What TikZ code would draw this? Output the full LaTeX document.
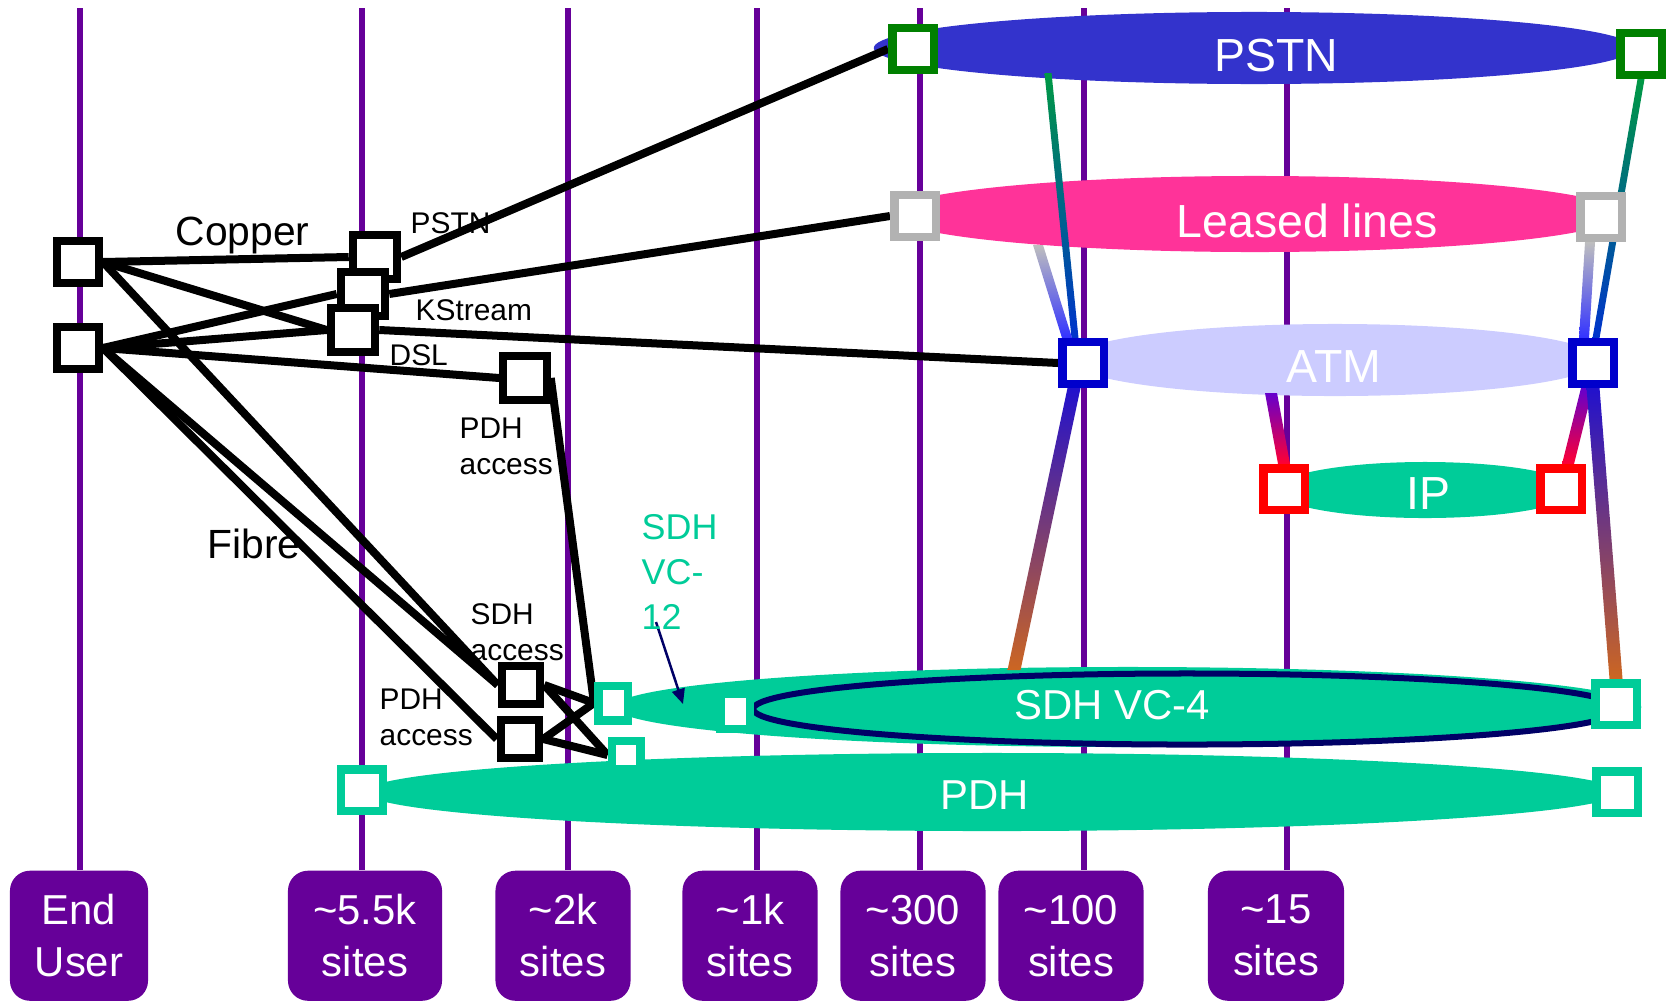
\documentclass[tikz,border=0pt]{standalone}
\usepackage{fontspec}
\setmainfont{Liberation Sans}
\usepackage{xcolor}
\usepackage{tikz}
\usetikzlibrary{shapes.geometric, arrows.meta, calc}
\definecolor{siteviolet}{RGB}{102, 0, 153}
\definecolor{pstnblue}{RGB}{51, 51, 204}
\definecolor{leasedpink}{RGB}{255, 51, 153}
\definecolor{atmlilac}{RGB}{204, 204, 255}
\definecolor{sdhgreen}{RGB}{0, 204, 153}
\definecolor{portgreen}{RGB}{0, 128, 0}
\definecolor{portgrey}{RGB}{178, 178, 178}
\definecolor{portblue}{RGB}{0, 0, 204}
\definecolor{portred}{RGB}{255, 0, 0}
\definecolor{ringnavy}{RGB}{0, 0, 102}
\definecolor{fadegreen}{RGB}{0, 153, 68}
\definecolor{fadeblue}{RGB}{0, 51, 204}
\definecolor{fadegrey}{RGB}{190, 190, 190}
\definecolor{fadebright}{RGB}{51, 51, 255}
\definecolor{fadeviolet}{RGB}{102, 0, 204}
\definecolor{fadered}{RGB}{255, 0, 51}
\definecolor{fadeindigo}{RGB}{34, 17, 204}
\definecolor{fadeorange}{RGB}{204, 102, 34}
\pgfdeclarelayer{back}
\pgfdeclarelayer{mid}
\pgfsetlayers{back,mid,main}
\newcommand{\gradlink}[5]{%
  \shade[top color=#3, bottom color=#4]
    ($(#1)+(-#5,0)$) -- ($(#1)+(#5,0)$) -- ($(#2)+(#5,0)$) -- ($(#2)+(-#5,0)$) -- cycle;}

\begin{document}
\begin{tikzpicture}[x=0.01cm, y=-0.01cm,
    sitebox/.style={fill=siteviolet, text=white, rounded corners=0.2cm,
                    minimum height=1.3cm, minimum width=#1, anchor=north,
                    align=center, inner sep=0pt, font=\fontsize{11.9}{14.8}\selectfont},
    siteline/.style={draw=siteviolet, line width=0.055cm},
    stratum/.style={ellipse, fill=#1, inner sep=0pt},
    stratumtext/.style={text=white, inner sep=0pt, font=\fontsize{13.2}{15}\selectfont},
    port/.style={draw=#1, fill=white, line width=0.085cm, minimum size=0.415cm, inner sep=0pt},
    accessbox/.style={draw=black, fill=white, line width=0.08cm, minimum size=#1, inner sep=0pt},
    wire/.style={line width=0.08cm},
    note/.style={inner sep=0pt, font=\fontsize{8.5}{10.3}\selectfont},
    medium/.style={inner sep=0pt, anchor=base west, font=\fontsize{11.6}{14}\selectfont},
    pointer/.style={draw=ringnavy, line width=0.025cm, -{Triangle[length=0.15cm, width=0.13cm]}},
]
    \useasboundingbox (0,0) rectangle (1671,1000);

    \node[sitebox=1.38cm] (enduser) at (79,870) {End\\User};
    \node[sitebox=1.54cm] (sites55) at (365,870) {\textasciitilde5.5k\\sites};
    \node[sitebox=1.35cm] (sites2k) at (563,870) {\textasciitilde2k\\sites};
    \node[sitebox=1.35cm] (sites1k) at (750,870) {\textasciitilde1k\\sites};
    \node[sitebox=1.45cm] (sites300) at (913,870) {\textasciitilde300\\sites};
    \node[sitebox=1.45cm] (sites100) at (1071,870) {\textasciitilde100\\sites};
    \node[sitebox=1.36cm] (sites15) at (1276,870) {\textasciitilde15\\sites};

    \begin{pgfonlayer}{back}
    \draw[siteline] ([xshift=0.01cm]enduser.north) -- +(0,-862);
    \draw[siteline] ([xshift=-0.03cm]sites55.north) -- +(0,-862);
    \draw[siteline] ([xshift=0.05cm]sites2k.north) -- +(0,-862);
    \draw[siteline] ([xshift=0.07cm]sites1k.north) -- +(0,-862);
    \draw[siteline] ([xshift=0.07cm]sites300.north) -- +(0,-862);
    \draw[siteline] ([xshift=0.13cm]sites100.north) -- +(0,-862);
    \draw[siteline] ([xshift=0.11cm]sites15.north) -- +(0,-862);

    \node[stratum=pstnblue, minimum width=7.6cm, minimum height=0.72cm] (pstn) at (1254,48) {};
    \node[stratum=leasedpink, minimum width=7.3cm, minimum height=0.76cm] (leased) at (1255,214) {};
    \node[stratum=atmlilac, minimum width=5.3cm, minimum height=0.72cm] (atm) at (1335,360) {};
    \node[stratum=sdhgreen, minimum width=3cm, minimum height=0.56cm] (ip) at (1425,490) {};
    \node[stratum=sdhgreen, minimum width=10.26cm, minimum height=0.8cm] (sdh) at (1128,707) {};
    \node[stratum=sdhgreen, minimum width=12.54cm, minimum height=0.78cm] (pdh) at (992,792) {};
    \end{pgfonlayer}

    \node[stratumtext] (pstnlabel) at (1276,56) {PSTN};
    \node[stratumtext] (leasedlabel) at (1307,221) {Leased lines};
    \node[stratumtext] (atmlabel) at (1334,367) {ATM};
    \node[stratumtext] (iplabel) at (1428,494) {IP};
    \node[stratumtext, font=\fontsize{11.9}{14}\selectfont] (sdhlabel) at (1112,705) {SDH VC-4};
    \node[stratumtext, font=\fontsize{11.9}{14}\selectfont] (pdhlabel) at (985,795) {PDH};

    \node[accessbox=0.42cm] (eu1) at (78,262) {};
    \node[accessbox=0.42cm] (eu2) at (78,348) {};
    \node[accessbox=0.445cm] (npstn) at (375,257) {};
    \node[accessbox=0.445cm] (nkstream) at (363,294) {};
    \node[accessbox=0.445cm] (ndsl) at (353,330) {};
    \node[accessbox=0.435cm] (pdhacc1) at (525,378) {};
    \node[accessbox=0.385cm] (sdhacc) at (521,685) {};
    \node[accessbox=0.385cm] (pdhacc2) at (520,739) {};

    \node[port=portgreen] (pstnsqL) at (913,49) {};
    \node[port=portgreen] (pstnsqR) at (1641,54) {};
    \node[port=portgrey] (leassqL) at (915,216) {};
    \node[port=portgrey] (leassqR) at (1601,217) {};
    \node[port=portblue] (atmsqL) at (1083,363) {};
    \node[port=portblue] (atmsqR) at (1593,363) {};
    \node[port=portred] (ipsqL) at (1284,489) {};
    \node[port=portred] (ipsqR) at (1561,489) {};
    \node[port=sdhgreen, minimum width=0.295cm, minimum height=0.345cm] (sdhsqA) at (613,703) {};
    \node[port=sdhgreen, minimum width=0.295cm, minimum height=0.355cm] (sdhsqB) at (735,711) {};
    \node[port=sdhgreen] (sdhsqR) at (1616,704) {};
    \node[port=sdhgreen, minimum width=0.285cm, minimum height=0.285cm] (pdhsqA) at (626,755) {};
    \node[port=sdhgreen] (pdhsqL) at (362,790) {};
    \node[port=sdhgreen] (pdhsqR) at (1617,792) {};

    \node[medium] (copper) at (175,245) {Copper};
    \node[medium] (fibre) at (207,558) {Fibre};
    \node[note, anchor=base west] (pstnnote) at (410,233) {PSTN};
    \node[note, anchor=base west] (kstreamnote) at (415,320) {KStream};
    \node[note, anchor=base west] (dslnote) at (389,365) {DSL};
    \node[note, anchor=north west, align=left] (pdhnote) at (459,417) {PDH\\access};
    \node[note, anchor=north west, align=left] (sdhnote) at (470,603) {SDH\\access};
    \node[note, anchor=north west, align=left] (pdhnoteB) at (379,688) {PDH\\access};
    \node[note, anchor=north west, align=left, text=sdhgreen,
          font=\fontsize{10.2}{12.8}\selectfont] (vc12note) at (641,514) {SDH\\VC-\\12};

    \coordinate (pstnfoot) at (1048,73);
    \coordinate (leasedfoot) at (1038,245);
    \coordinate (leasedfootR) at ([xshift=-0.11cm]leassqR.south);
    \coordinate (atmtopA) at ([xshift=-0.08cm]atmsqL.north);
    \coordinate (atmtopB) at ([xshift=-0.16cm]atmsqL.north);
    \coordinate (atmtopC) at ([xshift=0.03cm]atmsqR.north);
    \coordinate (atmtopD) at ([xshift=-0.09cm]atmsqR.north);
    \coordinate (atmfoot) at (1271,393);
    \coordinate (atmbaseL) at ([xshift=-0.09cm]atmsqL.south);
    \coordinate (atmbaseR) at ([xshift=-0.06cm]atmsqR.south);
    \coordinate (ipdropR) at ([xshift=0.07cm]ipsqR.north);
    \coordinate (sdhtop) at (1014,670);
    \coordinate (vctail) at (656,622);
    \coordinate (vchead) at (683,704);

    \begin{pgfonlayer}{mid}
    \draw[wire] (eu1.east) -- (npstn.west);
    \draw[wire] (eu1.east) -- (ndsl.west);
    \draw[wire] (eu1.east) -- (sdhacc.west);
    \draw[wire] (eu2.east) -- (nkstream.west);
    \draw[wire] (eu2.east) -- (ndsl.west);
    \draw[wire] (eu2.east) -- (pdhacc1.west);
    \draw[wire] (eu2.east) -- (sdhacc.west);
    \draw[wire] (eu2.east) -- (pdhacc2.west);
    \draw[wire] (npstn.east) -- (pstnsqL.west);
    \draw[wire] (nkstream.east) -- (leassqL.west);
    \draw[wire] (ndsl.east) -- (atmsqL.west);
    \draw[wire] (pdhacc1.east) -- (sdhsqA.west);
    \draw[wire] (sdhacc.east) -- (sdhsqA.west);
    \draw[wire] (sdhacc.east) -- (pdhsqA.west);
    \draw[wire] (pdhacc2.east) -- (sdhsqA.west);
    \draw[wire] (pdhacc2.east) -- (pdhsqA.west);

    \gradlink{pstnfoot}{atmtopA}{fadegreen}{fadeblue}{3.5}
    \gradlink{pstnsqR.south}{atmtopC}{fadegreen}{fadeblue}{3.5}
    \gradlink{leasedfoot}{atmtopB}{fadegrey}{fadebright}{5}
    \gradlink{leasedfootR}{atmtopD}{fadegrey}{fadebright}{5}
    \gradlink{atmfoot}{ipsqL.north}{fadeviolet}{fadered}{6}
    \gradlink{atmbaseR}{ipdropR}{fadeviolet}{fadered}{6}
    \gradlink{atmbaseL}{sdhtop}{fadeindigo}{fadeorange}{6.5}
    \gradlink{atmsqR.south}{sdhsqR.north}{fadeindigo}{fadeorange}{6.5}

    \node[ellipse, draw=ringnavy, line width=0.06cm, inner sep=0pt,
          minimum width=8.67cm, minimum height=0.71cm] (sdhring) at (1187,709) {};
    \draw[pointer] (vctail) -- (vchead);
    \end{pgfonlayer}
\end{tikzpicture}
\end{document}
